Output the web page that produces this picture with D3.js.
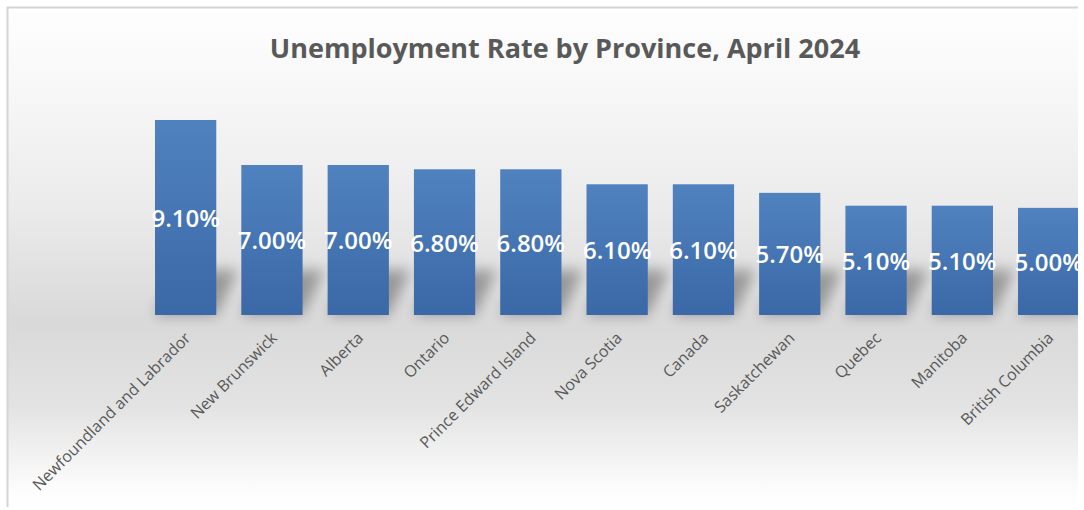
<!DOCTYPE html>
<html lang="en">
<head>
<meta charset="UTF-8">
<title>Unemployment Rate by Province</title>
<script src="https://cdn.jsdelivr.net/npm/d3@7"></script>
<style>
    body { margin: 0; padding: 0; background: #fff; }
    svg { display: block; font-family: "Open Sans", sans-serif; }
</style>
</head>
<body>
<div id="chart"></div>
<script>
    var provinces = ["Newfoundland and Labrador", "New Brunswick", "Alberta", "Ontario",
        "Prince Edward Island", "Nova Scotia", "Canada", "Saskatchewan", "Quebec",
        "Manitoba", "British Columbia"];
    var rates = [9.1, 7.0, 7.0, 6.8, 6.8, 6.1, 6.1, 5.7, 5.1, 5.1, 5.0];
    var title = "Unemployment Rate by Province, April 2024";

    var data = provinces.map(function (p, i) { return { name: p, value: rates[i] }; });

    var width = 1084, height = 510;
    var frame = { x: 7, y: 7, w: 1071, h: 500 };
    var baseY = 315;

    var svg = d3.select("#chart").append("svg")
        .attr("width", width)
        .attr("height", height);

    var defs = svg.append("defs");

    var bg = defs.append("linearGradient")
        .attr("id", "bg").attr("x1", 0).attr("y1", 0).attr("x2", 0).attr("y2", 1);
    [[0, "#fefefe"], [0.15, "#f8f8f8"], [0.4, "#ebebeb"], [0.63, "#d9d9d9"],
     [0.8, "#e3e3e3"], [0.97, "#fdfdfd"], [1, "#ffffff"]].forEach(function (s) {
        bg.append("stop").attr("offset", s[0]).attr("stop-color", s[1]);
    });

    var barGrad = defs.append("linearGradient")
        .attr("id", "barGrad").attr("x1", 0).attr("y1", 0).attr("x2", 0).attr("y2", 1);
    barGrad.append("stop").attr("offset", 0).attr("stop-color", "#5082c0");
    barGrad.append("stop").attr("offset", 1).attr("stop-color", "#3b68a6");

    defs.append("filter").attr("id", "blur")
        .attr("x", "-50%").attr("y", "-50%").attr("width", "200%").attr("height", "200%")
        .append("feGaussianBlur").attr("stdDeviation", 7);

    defs.append("clipPath").attr("id", "frameClip")
        .append("rect")
        .attr("x", frame.x).attr("y", frame.y)
        .attr("width", frame.w).attr("height", frame.h);

    svg.append("rect")
        .attr("x", frame.x).attr("y", frame.y)
        .attr("width", frame.w).attr("height", frame.h)
        .attr("fill", "url(#bg)");

    // light frame lines on top and left
    svg.append("path")
        .attr("d", "M" + (frame.x + 0.5) + "," + (frame.y + frame.h) + "V" + (frame.y + 0.5) + "H" + (frame.x + frame.w))
        .attr("fill", "none")
        .attr("stroke", "#d4d4d4")
        .attr("stroke-width", 2);

    var x = d3.scaleBand()
        .domain(provinces)
        .range([142.5, 1091.8])
        .paddingInner(0.29)
        .paddingOuter(0.145);

    var y = d3.scaleLinear()
        .domain([0, 10])
        .range([baseY, baseY - 214.3]);

    var plot = svg.append("g").attr("clip-path", "url(#frameClip)");

    // perspective shadows behind the bars
    plot.append("g").selectAll("path")
        .data(data)
        .enter().append("path")
        .attr("d", function (d) {
            var x0 = x(d.name), x1 = x0 + x.bandwidth();
            return "M" + x0 + "," + baseY + "L" + x1 + "," + baseY +
                "L" + (x1 + 22) + "," + (baseY - 45) + "L" + (x0 + 22) + "," + (baseY - 45) + "Z";
        })
        .attr("fill", "#000")
        .attr("opacity", 0.32)
        .attr("filter", "url(#blur)");

    plot.append("g").selectAll("rect")
        .data(data)
        .enter().append("rect")
        .attr("x", function (d) { return x(d.name); })
        .attr("y", function (d) { return y(d.value); })
        .attr("width", x.bandwidth())
        .attr("height", function (d) { return y(0) - y(d.value); })
        .attr("fill", "url(#barGrad)");

    plot.append("g").selectAll("text")
        .data(data)
        .enter().append("text")
        .attr("x", function (d) { return x(d.name) + x.bandwidth() / 2; })
        .attr("y", function (d) { return (y(d.value) + y(0)) / 2; })
        .attr("text-anchor", "middle")
        .attr("dominant-baseline", "central")
        .attr("fill", "#fff")
        .attr("font-size", 24)
        .attr("font-weight", 600)
        .text(function (d) { return d3.format(".2f")(d.value) + "%"; });

    plot.append("g").selectAll("text")
        .data(data)
        .enter().append("text")
        .attr("transform", function (d) {
            return "translate(" + (x(d.name) + x.bandwidth() / 2 + 6) + "," + (baseY + 24) + ") rotate(-45)";
        })
        .attr("text-anchor", "end")
        .attr("fill", "#595959")
        .attr("font-size", 16)
        .text(function (d) { return d.name; });

    svg.append("text")
        .attr("x", 565)
        .attr("y", 58)
        .attr("text-anchor", "middle")
        .attr("fill", "#595959")
        .attr("font-size", 27)
        .attr("font-weight", 700)
        .text(title);
</script>
</body>
</html>
